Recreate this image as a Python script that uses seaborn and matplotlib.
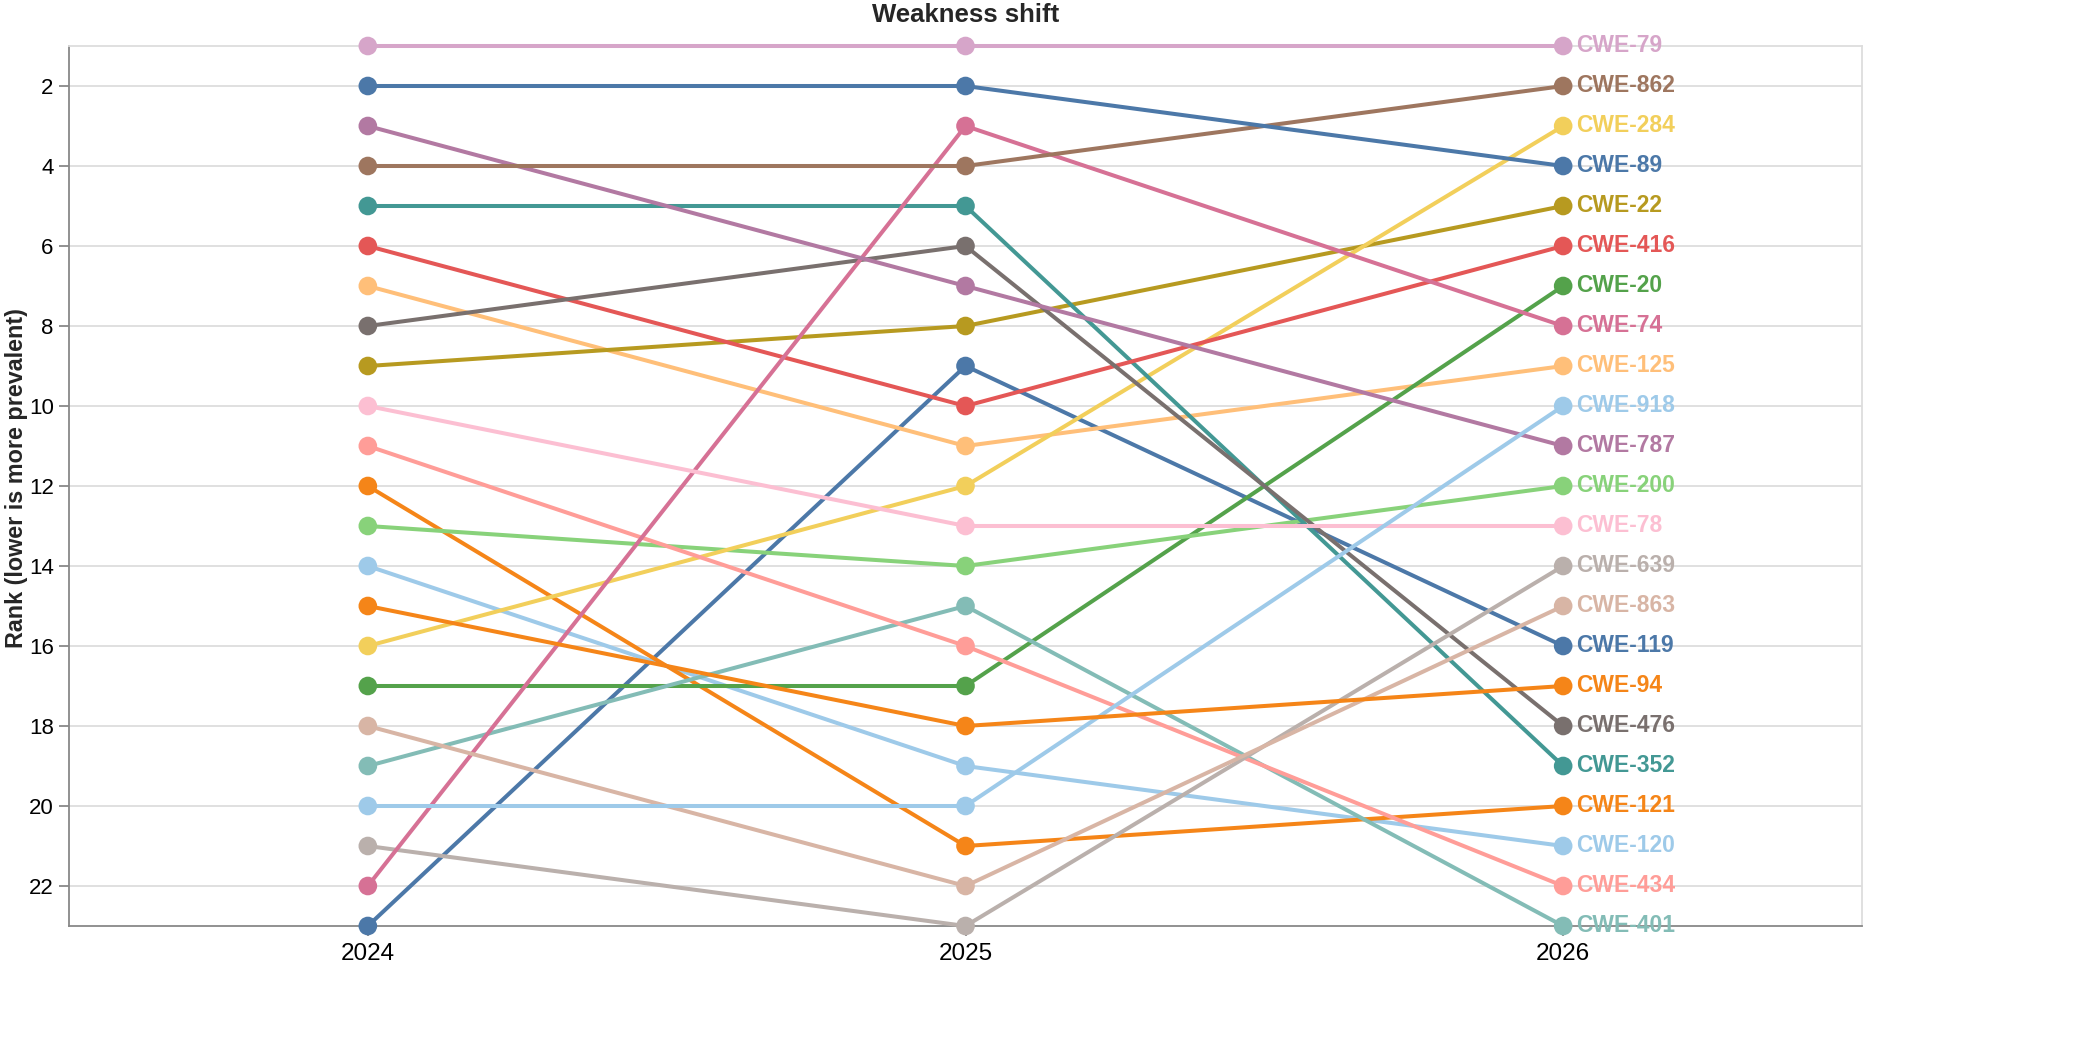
import pandas as pd
import matplotlib
matplotlib.use("Agg")
import matplotlib.pyplot as plt
import seaborn as sns

# ---- data (ranks) ----
years = [2024, 2025, 2026]
cwe_ids = ["CWE-79", "CWE-862", "CWE-284", "CWE-89", "CWE-22", "CWE-416", "CWE-20",
           "CWE-74", "CWE-125", "CWE-918", "CWE-787", "CWE-200", "CWE-78", "CWE-639",
           "CWE-863", "CWE-119", "CWE-94", "CWE-476", "CWE-352", "CWE-121", "CWE-120",
           "CWE-434", "CWE-401"]
rank_2024 = [1, 4, 16, 2, 9, 6, 17, 22, 7, 20, 3, 13, 10, 21, 18, 23, 15, 8, 5, 12, 14, 11, 19]
rank_2025 = [1, 4, 12, 2, 8, 10, 17, 3, 11, 20, 7, 14, 13, 23, 22, 9, 18, 6, 5, 21, 19, 16, 15]
rank_2026 = [1, 2, 3, 4, 5, 6, 7, 8, 9, 10, 11, 12, 13, 14, 15, 16, 17, 18, 19, 20, 21, 22, 23]
tableau20 = ["#4c78a8", "#9ecae9", "#f58518", "#ffbf79", "#54a24b", "#88d27a", "#b79a20",
             "#f2cf5b", "#439894", "#83bcb6", "#e45756", "#ff9d98", "#79706e", "#bab0ac",
             "#d67195", "#fcbfd2", "#b279a2", "#d6a5c9", "#9e765f", "#d8b5a5"]

rows = []
for yr, ranks in zip(years, [rank_2024, rank_2025, rank_2026]):
    for c, r in zip(cwe_ids, ranks):
        rows.append({"year": yr, "cwe": c, "rank": r})
df = pd.DataFrame(rows)

# colour domain is sorted as strings, palette cycles
domain = sorted(cwe_ids)
palette = {c: tableau20[i % len(tableau20)] for i, c in enumerate(domain)}

sns.set_style("white")
plt.rcParams['font.family'] = ['Liberation Sans', 'DejaVu Sans']

fig = plt.figure(figsize=(20.8, 10.4), dpi=100)
ax_l, ax_r, ax_t, ax_b = 69, 1862, 46, 926
ax = fig.add_axes([ax_l / 2080, 1 - ax_b / 1040, (ax_r - ax_l) / 2080, (ax_b - ax_t) / 1040])

sns.lineplot(data=df, x="year", y="rank", hue="cwe", hue_order=domain, palette=palette,
             linewidth=2.9, legend=False, sort=False, ax=ax, zorder=3)
for ln in ax.lines:
    ln.set_clip_on(False)
    ln.set_solid_capstyle("butt")

sns.scatterplot(data=df, x="year", y="rank", hue="cwe", hue_order=domain, palette=palette,
                s=180, linewidth=0, legend=False, ax=ax, zorder=4, clip_on=False)

# end labels at the last year
last = df[df["year"] == years[-1]]
for _, row in last.iterrows():
    ax.annotate(row["cwe"], (row["year"], row["rank"]), xytext=(9.5, 0),
                textcoords="offset points", ha="left", va="center",
                fontsize=16.5, fontweight="bold", color=palette[row["cwe"]],
                zorder=5, annotation_clip=False)

ax.set_xlim(2023.5, 2026.5)
ax.set_ylim(23, 1)
ax.set_xticks(years)
ax.set_xticklabels([str(y) for y in years], fontsize=17.5)
ax.set_yticks(range(2, 23, 2))
ax.set_yticklabels([str(v) for v in range(2, 23, 2)], fontsize=16)
ax.tick_params(axis="both", left=True, bottom=True, length=7, width=1.3,
               color="#888888", pad=4, labelcolor="black")
ax.tick_params(axis="x", pad=5)
ax.set_xlabel("")
ax.set_ylabel("")

ax.yaxis.grid(True, color="#dddddd", linewidth=1.3)
ax.xaxis.grid(False)
ax.set_axisbelow(True)

for side in ["left", "bottom"]:
    ax.spines[side].set_color("#888888")
    ax.spines[side].set_linewidth(1.3)
for side in ["top", "right"]:
    ax.spines[side].set_color("#dddddd")
    ax.spines[side].set_linewidth(1.3)

fig.text((ax_l + ax_r) / 2 / 2080, 1 - 22 / 1040, "Weakness shift", ha="center", va="baseline",
         fontsize=18.5, fontweight="bold")
fig.text(17 / 2080, 1 - 478 / 1040, "Rank (lower is more prevalent)", rotation=90,
         ha="center", va="center", fontsize=16.8, fontweight="bold")

fig.savefig("out.png", dpi=100, facecolor="white")
